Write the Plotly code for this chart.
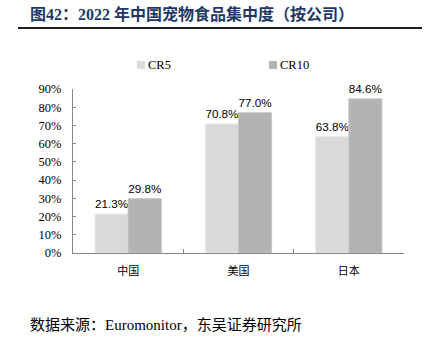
import plotly.graph_objects as go

categories = ["中国", "美国", "日本"]
cr5 = [0.213, 0.708, 0.638]
cr10 = [0.298, 0.770, 0.846]
series_names = ["CR5", "CR10"]
y_ticks = [0, 0.1, 0.2, 0.3, 0.4, 0.5, 0.6, 0.7, 0.8, 0.9]
y_tick_labels = ["0%", "10%", "20%", "30%", "40%", "50%", "60%", "70%", "80%", "90%"]

W, H = 426, 344
L, R, T, B = 73, 22, 89, 91
pw, ph = W - L - R, H - T - B
colors = ["#d9d9d9", "#b3b3b3"]
edges = ["#e6e6e6", "#c4c4c4"]

def px(x):
    return (x - L) / pw

def py(y):
    return (H - B - y) / ph

fig = go.Figure()
for name, vals, c, e in zip(series_names, [cr5, cr10], colors, edges):
    fig.add_trace(go.Bar(
        name=name, x=categories, y=vals,
        marker=dict(color=c, line=dict(color=e, width=1)),
        text=[f"{v*100:.1f}%" for v in vals], textposition="outside",
        textfont=dict(family="Liberation Sans, Arial", size=12.5, color="#000000"),
        cliponaxis=False, showlegend=False,
    ))

fig.update_layout(
    width=W, height=H,
    margin=dict(l=L, r=R, t=T, b=B, autoexpand=False),
    paper_bgcolor="white", plot_bgcolor="white",
    barmode="group", bargap=0.4, bargroupgap=0,
    showlegend=False,
)
fig.update_xaxes(
    showline=True, linecolor="#868686", linewidth=1,
    ticks="inside", tickson="boundaries", ticklen=4, tickcolor="#868686",
    tickfont=dict(family="Noto Sans CJK SC", size=11, color="#000000"),
    ticklabelstandoff=8,
    showgrid=False, zeroline=False,
)
fig.update_yaxes(
    range=[0, 0.9], tickvals=y_ticks, ticktext=y_tick_labels,
    showline=True, linecolor="#868686", linewidth=1,
    ticks="inside", ticklen=3, tickcolor="#868686",
    tickfont=dict(family="Liberation Serif, Times New Roman", size=12.5, color="#000000"),
    ticklabelstandoff=8,
    showgrid=False, zeroline=False,
)

# legend (manual)
leg_x = [137, 269]
for name, c, lx in zip(series_names, colors, leg_x):
    fig.add_shape(type="rect", xref="paper", yref="paper",
                  x0=px(lx), x1=px(lx + 8), y0=py(69), y1=py(61),
                  fillcolor=c, line=dict(width=0))
    fig.add_annotation(x=px(lx + 9), y=py(65), xref="paper", yref="paper",
                       xanchor="left", yanchor="middle", text=name, showarrow=False,
                       font=dict(family="Liberation Serif, Times New Roman", size=12.5, color="#000000"))

fig.add_annotation(
    x=px(28), y=py(14), xref="paper", yref="paper", xanchor="left", yanchor="middle",
    text="<b>图42：2022 年中国宠物食品集中度（按公司）</b>", showarrow=False,
    font=dict(family="Liberation Serif, Noto Sans CJK SC", size=16, color="#1f3864"),
)
fig.add_shape(type="line", xref="paper", yref="paper",
              x0=px(18), x1=px(422), y0=py(28), y1=py(28),
              line=dict(color="#1f1f1f", width=2))
fig.add_annotation(
    x=px(28), y=py(325), xref="paper", yref="paper", xanchor="left", yanchor="middle",
    text="数据来源：Euromonitor，东吴证券研究所", showarrow=False,
    font=dict(family="Liberation Serif, Noto Sans CJK SC", size=15, color="#000000"),
)

fig.write_html("out.html")
